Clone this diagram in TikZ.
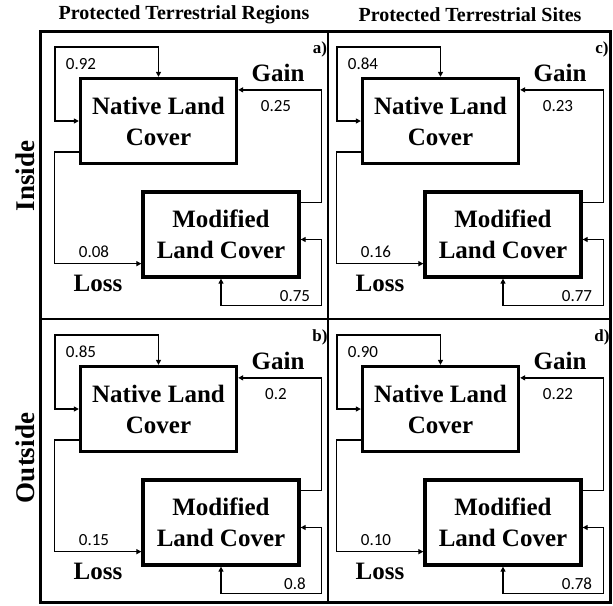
\documentclass[tikz,border=0pt]{standalone}
\usepackage{fontspec}
\setmainfont{Liberation Serif}
\newfontfamily\numfont{Carlito}
\usetikzlibrary{arrows.meta,positioning}

\begin{document}
\begin{tikzpicture}[
  x=1pt, y=-1pt,
  box/.style={rectangle, draw, line width=3.3pt, minimum width=156pt, minimum height=85pt,
    align=center, font=\fontsize{25}{31}\selectfont\bfseries},
  link/.style={line width=1.4pt, -{Triangle[length=5pt,width=5pt]}},
  loop/.style={line width=1.4pt, {Triangle[length=5pt,width=5pt]}-{Triangle[length=5pt,width=5pt]}},
  prob/.style={font=\fontsize{17}{20}\numfont},
  flow/.style={font=\fontsize{25}{30}\selectfont\bfseries},
  tag/.style={font=\fontsize{17}{20}\selectfont\bfseries},
  head/.style={font=\fontsize{20}{24}\selectfont\bfseries},
  side/.style={font=\fontsize{27}{30}\selectfont\bfseries, rotate=90}
]
  \useasboundingbox (0,0) rectangle (613,605);

  % frame and dividers
  \draw[line width=3.5pt] (40.5,31.5) rectangle (610.5,602.5);
  \draw[line width=2pt] (328,31) -- (328,603);
  \draw[line width=2pt] (40,319) -- (611,319);

  \node[head] (regions) at (184,15) {Protected Terrestrial Regions};
  \node[head] (sites) at (470,15) {Protected Terrestrial Sites};
  \node[side] (inside) at (25,176) {Inside};
  \node[side] (outside) at (25,458) {Outside};

  % one panel per case
  \foreach \ox/\oy/\tag/\pn/\pg/\pl/\pm in {40/31/a/0.92/0.25/0.08/0.75,
      40/319/b/0.85/0.2/0.15/0.8, 322/31/c/0.84/0.23/0.16/0.77,
      322/319/d/0.90/0.22/0.10/0.78} {
    \begin{scope}[shift={(\ox,\oy)}]
      \node[box] (native-\tag) at (118.5,90) {Native Land\\Cover};
      \node[box] (modified-\tag) at (181,203.5) {Modified\\Land Cover};

      \draw[loop] (native-\tag.north) -- ++(0,-30) -| ([xshift=-24pt]native-\tag.west) -- (native-\tag.west);
      \draw[link] ([yshift=13pt]native-\tag.south west) -- ++(-24.5,0) |- ([yshift=15pt]modified-\tag.south west);
      \draw[link] ([yshift=-12pt]modified-\tag.north east) -- ++(21,0) |- ([yshift=-13pt]native-\tag.north east);
      \draw[loop] (modified-\tag.south) -- ++(0,27) -| ([xshift=21pt,yshift=-5pt]modified-\tag.east) -- ([yshift=-5pt]modified-\tag.east);

      \node[prob] (stay-\tag) at (41,33) {\pn};
      \node[flow] (gain-\tag) at (238,42) {Gain};
      \node[prob] (up-\tag) at (236,75) {\pg};
      \node[prob] (down-\tag) at (54,221) {\pl};
      \node[flow] (loss-\tag) at (58,252) {Loss};
      \node[prob] (keep-\tag) at (255,265) {\pm};
      \node[tag] (label-\tag) at (280,18) {\tag)};
    \end{scope}
  }
\end{tikzpicture}
\end{document}
